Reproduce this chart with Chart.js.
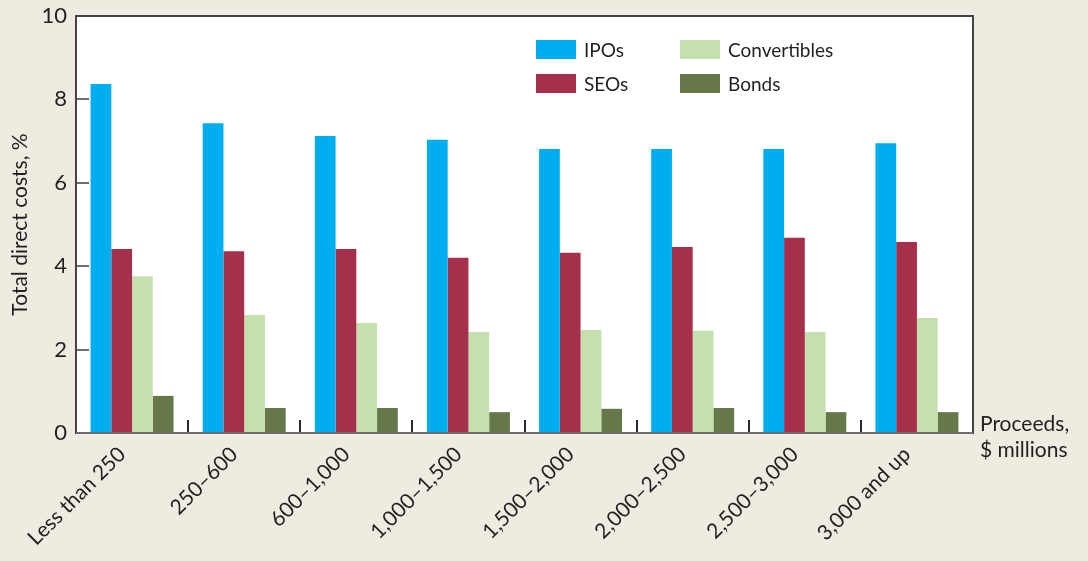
<!DOCTYPE html>
<html>
<head>
<meta charset="utf-8">
<script src="https://cdn.jsdelivr.net/npm/chart.js@4.4.1/dist/chart.umd.min.js"></script>
<style>
  html, body { margin: 0; padding: 0; background: #efebe0; }
  #wrap { width: 1088px; height: 561px; position: relative; }
</style>
</head>
<body>
<div id="wrap"><canvas id="costChart"></canvas></div>
<script>
// Direct costs of issuing securities, % of proceeds
const categories = ['Less than 250', '250–600', '600–1,000', '1,000–1,500',
  '1,500–2,000', '2,000–2,500', '2,500–3,000', '3,000 and up'];
const ipos         = [8.37, 7.43, 7.12, 7.03, 6.81, 6.81, 6.81, 6.95];
const seos         = [4.41, 4.36, 4.41, 4.20, 4.32, 4.46, 4.68, 4.58];
const convertibles = [3.76, 2.83, 2.64, 2.42, 2.47, 2.45, 2.42, 2.76];
const bonds        = [0.89, 0.60, 0.60, 0.50, 0.58, 0.60, 0.50, 0.50];
const yTicks = [0, 2, 4, 6, 8, 10];

const textColor = '#231f20';
const fontFamily = 'Lato, "Open Sans", sans-serif';

// white plot area, frame, inside tick marks, legend and x-axis caption
const framePlugin = {
  id: 'frame',
  beforeDraw(chart) {
    const { ctx, chartArea: a } = chart;
    ctx.save();
    ctx.fillStyle = '#ffffff';
    ctx.fillRect(a.left, a.top, a.right - a.left, a.bottom - a.top);
    ctx.restore();
  },
  afterDraw(chart) {
    const { ctx, chartArea: a, scales } = chart;
    ctx.save();

    // y tick marks, pointing into the plot
    ctx.strokeStyle = '#6d6d6d';
    ctx.lineWidth = 2;
    yTicks.forEach(v => {
      if (v === 0 || v === 10) return;
      const y = Math.round(scales.y.getPixelForValue(v));
      ctx.beginPath();
      ctx.moveTo(a.left, y);
      ctx.lineTo(a.left + 13, y);
      ctx.stroke();
    });

    // x tick marks between the groups
    ctx.strokeStyle = '#2a2a2a';
    for (let i = 1; i < categories.length; i++) {
      const x = Math.round((scales.x.getPixelForValue(i - 1) + scales.x.getPixelForValue(i)) / 2);
      ctx.beginPath();
      ctx.moveTo(x, a.bottom);
      ctx.lineTo(x, a.bottom - 13);
      ctx.stroke();
    }

    // frame
    ctx.strokeStyle = '#444444';
    ctx.lineWidth = 2;
    ctx.strokeRect(a.left, a.top, a.right - a.left, a.bottom - a.top);
    ctx.strokeStyle = '#6d6d6d';
    ctx.beginPath();
    ctx.moveTo(a.left, a.bottom);
    ctx.lineTo(a.right, a.bottom);
    ctx.stroke();

    // legend, two columns inside the plot
    ctx.font = '19px ' + fontFamily;
    ctx.textBaseline = 'middle';
    ctx.textAlign = 'left';
    chart.data.datasets.forEach((ds, i) => {
      const col = Math.floor(i / 2);
      const row = i % 2;
      const x = a.left + 460 + col * 144;
      const y = a.top + 24 + row * 34;
      ctx.fillStyle = ds.backgroundColor;
      ctx.fillRect(x, y, 40, 19);
      ctx.fillStyle = textColor;
      ctx.fillText(ds.label, x + 48, y + 11);
    });

    // x axis caption to the right of the plot
    ctx.font = '21px ' + fontFamily;
    ctx.textBaseline = 'alphabetic';
    ctx.fillText('Proceeds,', a.right + 7, a.bottom - 2);
    ctx.fillText('$ millions', a.right + 7, a.bottom + 24);
    ctx.restore();
  }
};

new Chart(document.getElementById('costChart'), {
  type: 'bar',
  data: {
    labels: categories,
    datasets: [
      { label: 'IPOs', data: ipos, backgroundColor: '#00aeef' },
      { label: 'SEOs', data: seos, backgroundColor: '#a6304c' },
      { label: 'Convertibles', data: convertibles, backgroundColor: '#c4e0ae' },
      { label: 'Bonds', data: bonds, backgroundColor: '#66774a' }
    ]
  },
  options: {
    responsive: true,
    maintainAspectRatio: false,
    animation: false,
    layout: { padding: { top: 16, right: 115, left: 0, bottom: 0 } },
    datasets: {
      bar: { categoryPercentage: 0.74, barPercentage: 1.0, borderWidth: 0 }
    },
    plugins: {
      legend: { display: false },
      tooltip: { enabled: false }
    },
    scales: {
      x: {
        grid: { display: false, drawTicks: false },
        border: { display: false },
        ticks: {
          color: textColor,
          font: { family: fontFamily, size: 21 },
          autoSkip: false,
          maxRotation: 45,
          minRotation: 45,
          padding: 9,
          labelOffset: -10
        },
        afterFit(scale) { scale.height = 128; }
      },
      y: {
        min: 0,
        max: 10,
        grid: { display: false, drawTicks: false },
        border: { display: false },
        ticks: {
          stepSize: 2,
          color: textColor,
          font: { family: fontFamily, size: 22 },
          padding: 9
        },
        title: {
          display: true,
          text: 'Total direct costs, %',
          color: textColor,
          font: { family: fontFamily, size: 21 },
          padding: { top: 8, bottom: 0 }
        },
        afterFit(scale) {
          scale.width = 76;
          // let the layout padding alone set the plot top
          scale.paddingTop = 0;
          scale.paddingBottom = 0;
        }
      }
    }
  },
  plugins: [framePlugin]
});
</script>
</body>
</html>
